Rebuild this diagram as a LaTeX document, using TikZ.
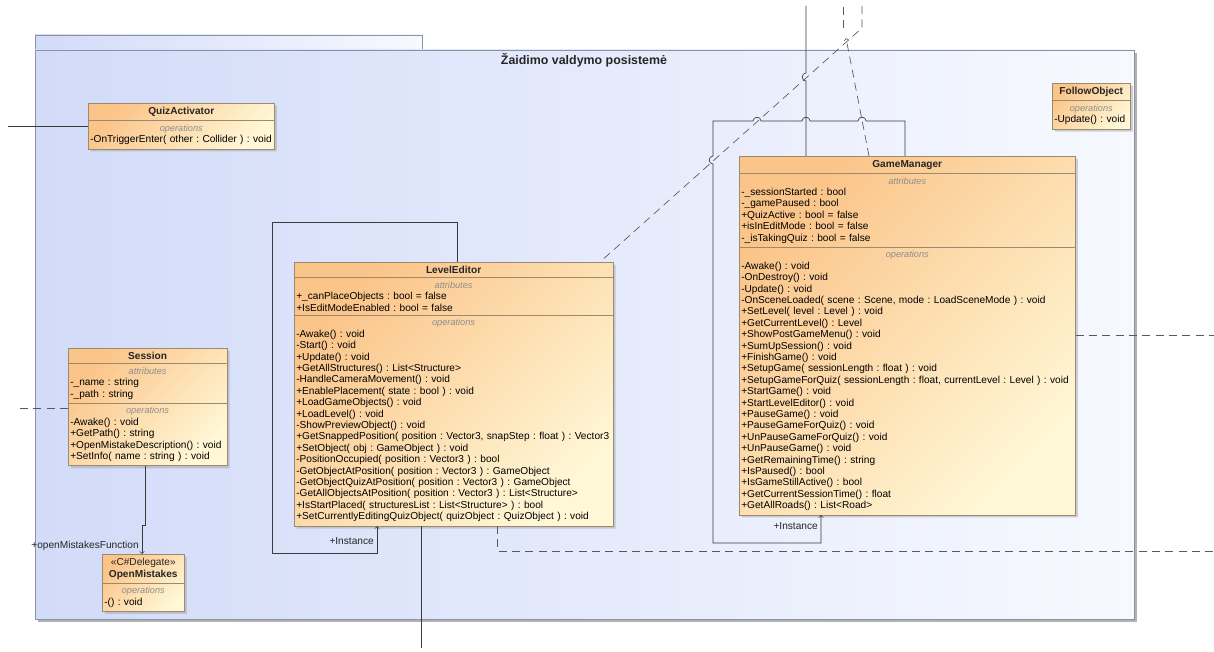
\documentclass[tikz,border=0pt]{standalone}
\usepackage{fontspec}
\setmainfont{Liberation Sans}
\usetikzlibrary{shapes.multipart,shadows}

\definecolor{clsA}{HTML}{FBC489}
\definecolor{clsB}{HTML}{FFF7D6}
\definecolor{clsline}{HTML}{9A8A70}
\definecolor{pkgA}{HTML}{D2DBF8}
\definecolor{pkgB}{HTML}{F7F9FF}
\definecolor{pkgline}{HTML}{8A93A6}
\definecolor{secgray}{HTML}{8E8E8E}
\definecolor{lnk}{HTML}{3A3A3A}

\newcommand{\cname}[1]{\hfill\textbf{#1}\hfill\null}
\newcommand{\csec}[1]{\hfill{\color{secgray}\fontsize{6.9}{8.55}\selectfont\itshape #1}\hfill\null\\}
\frenchspacing

\begin{document}
\begin{tikzpicture}[x=0.75pt,y=-0.75pt]

    \tikzset{umlclass/.style={rectangle split, rectangle split parts=3,
        draw=clsline, top color=clsA, bottom color=clsB, shading angle=45,
        drop shadow={shadow xshift=2pt, shadow yshift=-2pt, fill=black!35},
        anchor=north west, align=left, inner xsep=1.5pt, inner ysep=2.8pt,
        font=\fontsize{7.6}{8.55}\selectfont, text=black!85}}
    \tikzset{lbl/.style={font=\fontsize{7.6}{8.55}\selectfont, text=black!85, inner sep=0pt}}
    \tikzset{dep/.style={dashed, dash pattern=on 6pt off 4pt, draw=black!65}}

    \useasboundingbox (0,0) rectangle (1214,652);

    % paquete
    \fill[black!30] (38,53) rectangle (1137,622);
    \draw[pkgline, left color=pkgA, right color=pkgB] (35,35) rectangle (422,50);
    \draw[pkgline, left color=pkgA, right color=pkgB] (35,50) rectangle (1134,619);
    \node[font=\bfseries\fontsize{9.3}{11}\selectfont, text=black!85] (pkgtitle) at (584,60) {Žaidimo valdymo posistemė};

    % clases
    \node[umlclass, rectangle split parts=2, text width=136.5pt] (quizAct) at (88,103)
        {\cname{QuizActivator}
         \nodepart{two}\csec{operations}-OnTriggerEnter( other : Collider ) : void};

    \node[umlclass, rectangle split parts=2, text width=55.5pt] (followObj) at (1052,83)
        {\cname{FollowObject}
         \nodepart{two}\csec{operations}-Update() : void};

    \node[umlclass, text width=116pt] (session) at (68,348)
        {\cname{Session}
         \nodepart{two}\csec{attributes}-\_name : string\\-\_path : string
         \nodepart{three}\csec{operations}-Awake() : void\\+GetPath() : string\\
         +OpenMistakeDescription() : void\\+SetInfo( name : string ) : void};

    \node[umlclass, rectangle split parts=2, text width=58.5pt] (openMist) at (102,554)
        {\hfill«C\#Delegate»\hfill\null\\\cname{OpenMistakes}
         \nodepart{two}\csec{operations}-() : void};

    \node[umlclass, text width=236pt] (levelEd) at (294,262)
        {\cname{LevelEditor}
         \nodepart{two}\csec{attributes}+\_canPlaceObjects : bool = false\\+IsEditModeEnabled : bool = false
         \nodepart{three}\csec{operations}-Awake() : void\\-Start() : void\\+Update() : void\\
         +GetAllStructures() : List<Structure>\\-HandleCameraMovement() : void\\
         +EnablePlacement( state : bool ) : void\\+LoadGameObjects() : void\\+LoadLevel() : void\\
         -ShowPreviewObject() : void\\
         +GetSnappedPosition( position : Vector3, snapStep : float ) : Vector3\\
         +SetObject( obj : GameObject ) : void\\-PositionOccupied( position : Vector3 ) : bool\\
         -GetObjectAtPosition( position : Vector3 ) : GameObject\\
         -GetObjectQuizAtPosition( position : Vector3 ) : GameObject\\
         -GetAllObjectsAtPosition( position : Vector3 ) : List<Structure>\\
         +IsStartPlaced( structuresList : List<Structure> ) : bool\\
         +SetCurrentlyEditingQuizObject( quizObject : QuizObject ) : void};

    \node[umlclass, text width=249pt] (gameMgr) at (739,156)
        {\cname{GameManager}
         \nodepart{two}\csec{attributes}-\_sessionStarted : bool\\-\_gamePaused : bool\\
         +QuizActive : bool = false\\+isInEditMode : bool = false\\-\_isTakingQuiz : bool = false
         \nodepart{three}\csec{operations}-Awake() : void\\-OnDestroy() : void\\-Update() : void\\
         -OnSceneLoaded( scene : Scene, mode : LoadSceneMode ) : void\\
         +SetLevel( level : Level ) : void\\+GetCurrentLevel() : Level\\+ShowPostGameMenu() : void\\
         +SumUpSession() : void\\+FinishGame() : void\\+SetupGame( sessionLength : float ) : void\\
         +SetupGameForQuiz( sessionLength : float, currentLevel : Level ) : void\\
         +StartGame() : void\\+StartLevelEditor() : void\\+PauseGame() : void\\
         +PauseGameForQuiz() : void\\+UnPauseGameForQuiz() : void\\+UnPauseGame() : void\\
         +GetRemainingTime() : string\\+IsPaused() : bool\\+IsGameStillActive() : bool\\
         +GetCurrentSessionTime() : float\\+GetAllRoads() : List<Road>};

    % extremos libres
    \coordinate (leftQ) at (8,126);
    \coordinate (leftS) at (15,408);
    \coordinate (topGM) at (806,6);
    \coordinate (topDep) at (862,6);
    \coordinate (topDepB) at (843,6);
    \coordinate (depTip) at (846,38);
    \coordinate (rightA) at (1214,335);
    \coordinate (rightB) at (1214,551);
    \coordinate (botLE) at (421,648);

    \begin{scope}[every path/.style={draw=lnk, line width=0.5pt}]
        \draw (quizAct.west |- leftQ) -- (leftQ);
        \draw (421,0 |- levelEd.south) -- (botLE);
        \draw (topGM) -- (806,73) .. controls (801,73) and (801,81) .. (806,81) -- (806,0 |- gameMgr.north);

        \draw[->] (145,0 |- session.south) -- (145,525) -- (142,525) -- (142,0 |- openMist.north);
        \draw[->] (457,0 |- levelEd.north) -- (457,222) -- (272,222) -- (272,553) -- (377,553) -- (377,0 |- levelEd.south);
        \draw[->] (905,0 |- gameMgr.north) -- (905,121)
            -- (866,121) .. controls (866,116) and (858,116) .. (858,121)
            -- (810,121) .. controls (810,116) and (802,116) .. (802,121)
            -- (761,121) .. controls (761,116) and (753,116) .. (753,121)
            -- (713,121) -- (713,156) .. controls (708,156) and (708,164) .. (713,164)
            -- (713,543) -- (821,543) -- (821,0 |- gameMgr.south);
    \end{scope}

    \begin{scope}[every path/.style={dep, line width=0.5pt}]
        \draw (session.west |- leftS) -- (leftS);
        \draw (topDep) -- (862,28) -- (600,0 |- levelEd.north);
        \draw[->] (869,0 |- gameMgr.north) -- (depTip);
        \draw (843,28) -- (topDepB);
        \draw (gameMgr.east |- rightA) -- (rightA);
        \draw (497,0 |- levelEd.south) -- (497,551) -- (rightB);
    \end{scope}

    \node[lbl, anchor=east] (omFn) at (139,546) {+openMistakesFunction};
    \node[lbl, anchor=east] (leInst) at (374,541) {+Instance};
    \node[lbl, anchor=east] (gmInst) at (818,526) {+Instance};

\end{tikzpicture}
\end{document}
